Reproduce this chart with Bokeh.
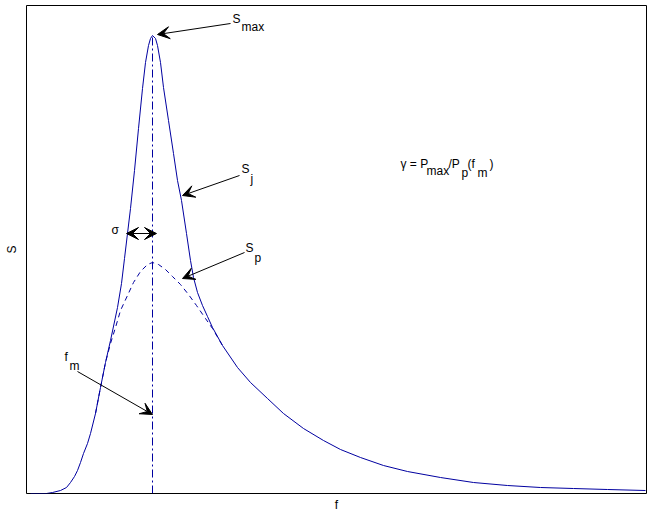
from bokeh.plotting import figure
from bokeh.models import Range1d, Label, Arrow, VeeHead, FixedTicker
from bokeh.embed import file_html
from bokeh.resources import INLINE

# ---- data (arbitrary units) ----
jonswap_f = [0.04, 0.20, 0.26, 0.34, 0.40, 0.44, 0.48, 0.51, 0.54, 0.57, 0.61, 0.64, 0.69, 0.74,
             0.79, 0.84, 0.91, 0.95, 0.98, 1.01, 1.04, 1.08, 1.12, 1.16, 1.19, 1.22, 1.24, 1.26,
             1.29, 1.31, 1.34, 1.37, 1.42, 1.47, 1.51, 1.55, 1.60, 1.64, 1.67, 1.71, 1.76, 1.81,
             1.86, 1.96, 2.11, 2.24, 2.41, 2.57, 2.77, 2.97, 3.14, 3.34, 3.57, 3.81, 4.14, 4.47,
             4.81, 5.14, 5.47, 5.81, 6.19]
jonswap_s = [0.00, 0.00, 0.01, 0.03, 0.06, 0.11, 0.17, 0.23, 0.31, 0.40, 0.50, 0.60, 0.80, 1.06,
             1.31, 1.53, 1.86, 2.10, 2.35, 2.60, 2.85, 3.23, 3.65, 4.05, 4.31, 4.48, 4.55, 4.58,
             4.55, 4.48, 4.31, 4.06, 3.73, 3.40, 3.13, 2.93, 2.60, 2.33, 2.16, 2.01, 1.88, 1.77,
             1.66, 1.48, 1.26, 1.11, 0.95, 0.80, 0.65, 0.53, 0.44, 0.36, 0.28, 0.22, 0.16, 0.11,
             0.08, 0.06, 0.05, 0.04, 0.03]

pm_f = [0.69, 0.74, 0.79, 0.84, 0.89, 0.94, 1.01, 1.07, 1.14, 1.21, 1.26, 1.32, 1.39, 1.46,
        1.54, 1.62, 1.70, 1.79, 1.86, 1.96]
pm_s = [0.80, 1.06, 1.31, 1.50, 1.66, 1.83, 1.98, 2.11, 2.22, 2.29, 2.31, 2.29, 2.24, 2.17,
        2.09, 1.99, 1.88, 1.75, 1.65, 1.48]

f_m = 1.26
s_max = 4.58

# annotation texts
text_items = ["S", "max", "S", "j", "S", "p", "σ", "f", "m",
              "γ = P", "max", "/P", "p", "(f", "m", ")"]
text_x = [2.06, 2.15, 2.15, 2.24, 2.19, 2.28, 0.85, 0.38, 0.43,
          3.74, 4.00, 4.22, 4.35, 4.41, 4.51, 4.63]
text_y = [4.75, 4.67, 3.25, 3.15, 2.46, 2.36, 2.64, 1.37, 1.28,
          3.30, 3.23, 3.30, 3.21, 3.30, 3.21, 3.30]

# arrows
arrow_x0 = [2.04, 2.13, 2.18, 1.00, 0.51]
arrow_y0 = [4.70, 3.18, 2.41, 2.60, 1.22]
arrow_x1 = [1.31, 1.56, 1.56, 1.30, 1.26]
arrow_y1 = [4.59, 2.98, 2.15, 2.60, 0.79]
arrow_double = [False, False, False, True, False]

FONT = "Liberation Sans"
BLUE = "#0000a0"

p = figure(width=651, height=517, x_range=Range1d(0, 6.2), y_range=Range1d(0, 4.88),
           output_backend="svg", toolbar_location=None,
           min_border_left=26, min_border_right=5, min_border_top=5, min_border_bottom=24)
p.grid.visible = False
p.outline_line_color = "black"
p.outline_line_width = 1
p.background_fill_color = "white"
p.border_fill_color = "white"

for ax in (p.xaxis[0], p.yaxis[0]):
    ax.ticker = FixedTicker(ticks=[])
    ax.major_label_text_font_size = "0px"
    ax.axis_line_color = None
    ax.major_tick_line_color = None
    ax.minor_tick_line_color = None
    ax.major_tick_out = 0
    ax.major_tick_in = 0
    ax.axis_label_text_font = FONT
    ax.axis_label_text_font_size = "12px"
    ax.axis_label_text_font_style = "normal"
    ax.axis_label_text_color = "black"
p.xaxis.axis_label = "f"
p.yaxis.axis_label = "S"
p.xaxis.axis_label_standoff = 4
p.yaxis.axis_label_standoff = 8

p.line(jonswap_f, jonswap_s, line_color=BLUE, line_width=1)
p.line(pm_f, pm_s, line_color=BLUE, line_width=1, line_dash="5 4")
p.line([f_m, f_m], [0, s_max], line_color=BLUE, line_width=1, line_dash="8 3 2 3")

for x0, y0, x1, y1, dbl in zip(arrow_x0, arrow_y0, arrow_x1, arrow_y1, arrow_double):
    end = VeeHead(size=12, fill_color="black", line_color="black", line_width=1)
    start = VeeHead(size=12, fill_color="black", line_color="black", line_width=1) if dbl else None
    p.add_layout(Arrow(x_start=x0, y_start=y0, x_end=x1, y_end=y1, end=end, start=start,
                       line_color="black", line_width=1))

for t, x, y in zip(text_items, text_x, text_y):
    p.add_layout(Label(x=x, y=y, text=t, text_font=FONT, text_font_size="12px",
                       text_align="left", text_baseline="middle", text_color="black"))

open("out.html", "w").write(file_html(p, INLINE))
